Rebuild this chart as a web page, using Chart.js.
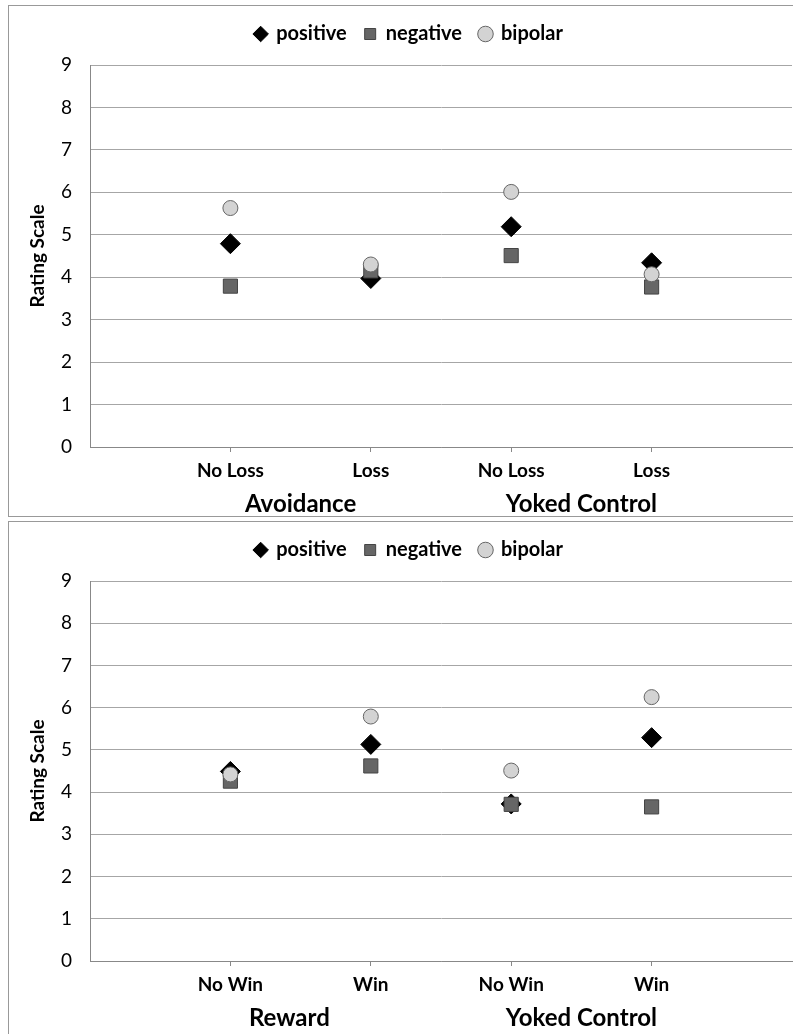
<!DOCTYPE html>
<html lang="en">
<head>
<meta charset="UTF-8">
<title>Rating Scale</title>
<script src="https://cdn.jsdelivr.net/npm/chart.js"></script>
<style>
    body { margin: 0; background: #fff; overflow: hidden; }
    .panel {
        position: absolute;
        left: 8px;
        width: 800px;
        border: 1px solid #999;
        background: #fff;
    }
    #topPanel { top: 5px; height: 510px; }
    #botPanel { top: 521px; height: 520px; }
</style>
</head>
<body>
<div class="panel" id="topPanel"><canvas id="topChart"></canvas></div>
<div class="panel" id="botPanel"><canvas id="botChart"></canvas></div>
<script>
    const seriesNames = ['positive', 'negative', 'bipolar'];
    const yTicks = [0, 1, 2, 3, 4, 5, 6, 7, 8, 9];

    // top: avoidance vs yoked control
    const topCategories = ['No Loss', 'Loss', 'No Loss', 'Loss'];
    const topGroups = ['Avoidance', 'Yoked Control'];
    const topPositive = [4.79, 3.97, 5.19, 4.34];
    const topNegative = [3.79, 4.15, 4.51, 3.77];
    const topBipolar = [5.63, 4.30, 6.01, 4.07];

    // bottom: reward vs yoked control
    const botCategories = ['No Win', 'Win', 'No Win', 'Win'];
    const botGroups = ['Reward', 'Yoked Control'];
    const botPositive = [4.49, 5.13, 3.72, 5.29];
    const botNegative = [4.26, 4.62, 3.71, 3.65];
    const botBipolar = [4.42, 5.79, 4.51, 6.25];

    const FONT = 'Lato, "Open Sans", sans-serif';

    function pts(values) {
        return values.map((v, i) => ({ x: i + 1, y: v }));
    }

    // make the legend box a fixed height so the plot starts where it should
    const legendHeight = {
        id: 'legendHeight',
        beforeInit(chart, args, opts) {
            const fit = chart.legend.fit;
            chart.legend.fit = function () {
                fit.bind(chart.legend)();
                this.height = opts.height;
            };
        }
    };

    function makeChart(id, cats, groups, groupPos, pos, neg, bip, legendH, padBottom) {
        const ctx = document.getElementById(id).getContext('2d');
        return new Chart(ctx, {
            type: 'scatter',
            plugins: [legendHeight],
            data: {
                datasets: [{
                    label: seriesNames[0],
                    data: pts(pos),
                    pointStyle: 'rectRot',
                    pointRadius: 10,
                    backgroundColor: '#000',
                    borderColor: '#000',
                    borderWidth: 1,
                    order: 3
                }, {
                    label: seriesNames[1],
                    data: pts(neg),
                    pointStyle: 'rect',
                    pointRadius: 10,
                    backgroundColor: '#666',
                    borderColor: '#444',
                    borderWidth: 1,
                    order: 2
                }, {
                    label: seriesNames[2],
                    data: pts(bip),
                    pointStyle: 'circle',
                    pointRadius: 7.5,
                    backgroundColor: '#d3d3d3',
                    borderColor: '#666',
                    borderWidth: 1,
                    order: 1
                }]
            },
            options: {
                responsive: true,
                maintainAspectRatio: false,
                animation: false,
                layout: { padding: { top: 0, right: 17, bottom: padBottom, left: 17 } },
                plugins: {
                    tooltip: { enabled: false },
                    legendHeight: { height: legendH },
                    legend: {
                        position: 'top',
                        labels: {
                            usePointStyle: true,
                            boxWidth: 11,
                            boxHeight: 11,
                            padding: 18,
                            color: '#000',
                            font: { family: FONT, size: 20, weight: 'bold' },
                            sort: (a, b) => a.datasetIndex - b.datasetIndex
                        }
                    }
                },
                scales: {
                    x: {
                        type: 'linear',
                        min: 0,
                        max: 5,
                        weight: 0,
                        afterBuildTicks: axis => { axis.ticks = yTicks.slice(0, 6).map(v => ({ value: v })); },
                        afterFit: axis => { axis.height = 30; },
                        grid: {
                            drawOnChartArea: false,
                            drawTicks: true,
                            tickLength: 5,
                            color: c => (c.tick && c.tick.value >= 1 && c.tick.value <= 4) ? '#888' : 'rgba(0,0,0,0)'
                        },
                        border: { color: '#888', width: 1 },
                        ticks: {
                            autoSkip: false,
                            maxRotation: 0,
                            padding: 7,
                            color: '#000',
                            font: { family: FONT, size: 19, weight: 'bold' },
                            callback: v => cats[v - 1] || ''
                        }
                    },
                    x2: {
                        type: 'linear',
                        position: 'bottom',
                        min: 0,
                        max: 5,
                        weight: 1,
                        afterBuildTicks: axis => { axis.ticks = groupPos.map(v => ({ value: v })); },
                        afterFit: axis => { axis.height = 39; },
                        grid: { display: false, drawTicks: false },
                        border: { display: false },
                        ticks: {
                            autoSkip: false,
                            maxRotation: 0,
                            padding: 13,
                            color: '#000',
                            font: { family: FONT, size: 24, weight: 'bold' },
                            callback: (v, i) => groups[i]
                        }
                    },
                    y: {
                        min: 0,
                        max: 9,
                        afterBuildTicks: axis => { axis.ticks = yTicks.map(v => ({ value: v })); },
                        afterFit: axis => { axis.width = 64; },
                        grid: { color: '#a6a6a6', lineWidth: 1, drawTicks: false },
                        border: { color: '#888', width: 1 },
                        ticks: {
                            padding: 18,
                            color: '#000',
                            font: { family: FONT, size: 19 }
                        },
                        title: {
                            display: true,
                            text: 'Rating Scale',
                            color: '#000',
                            padding: { top: 0, bottom: 0 },
                            font: { family: FONT, size: 19, weight: 'bold' }
                        }
                    }
                }
            }
        });
    }

    makeChart('topChart', topCategories, topGroups, [1.5, 3.5], topPositive, topNegative, topBipolar, 59, 0);
    makeChart('botChart', botCategories, botGroups, [1.42, 3.5], botPositive, botNegative, botBipolar, 59, 12);
</script>
</body>
</html>
